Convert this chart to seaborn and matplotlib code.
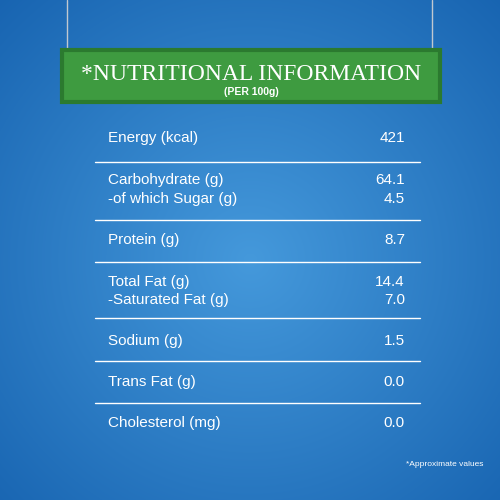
import numpy as np
import matplotlib
matplotlib.use("Agg")
import matplotlib.pyplot as plt
import seaborn as sns
from matplotlib.patches import Rectangle

sns.set_style("white")
plt.rcParams['font.family'] = ['Liberation Sans', 'DejaVu Sans']

labels = ["Energy (kcal)", "Carbohydrate (g)", "-of which Sugar (g)", "Protein (g)",
          "Total Fat (g)", "-Saturated Fat (g)", "Sodium (g)", "Trans Fat (g)", "Cholesterol (mg)"]
values = ["421", "64.1", "4.5", "8.7", "14.4", "7.0", "1.5", "0.0", "0.0"]
row_y = [138, 180, 199, 240, 282, 300, 341, 382, 423]
sep_y = [162, 220, 262, 318, 361, 403]

fig = plt.figure(figsize=(5, 5), dpi=100)
ax = fig.add_axes([0, 0, 1, 1])
ax.set_xlim(0, 500); ax.set_ylim(500, 0); ax.axis("off")

yy, xx = np.mgrid[0:500, 0:500]
r = np.sqrt((xx - 250) ** 2 + (yy - 260) ** 2) / 350
c0 = np.array([0.27, 0.60, 0.86]); c1 = np.array([0.10, 0.40, 0.70])
img = c0[None, None, :] * (1 - r[..., None]) + c1[None, None, :] * r[..., None]
ax.imshow(np.clip(img, 0, 1), extent=(0, 500, 500, 0), zorder=0)

# hanging strings
for x in (67, 432):
    ax.plot([x, x], [0, 52], color="#c0c8d0", lw=1, zorder=1)
ax.add_patch(Rectangle((62, 50), 378, 52, color="#3e9b40", zorder=2))
ax.add_patch(Rectangle((62, 50), 378, 52, fill=False, ec="#2b7a2f", lw=3, zorder=2))
ax.text(251, 74, "*NUTRITIONAL INFORMATION", family="Liberation Serif", color="white",
        fontsize=17, ha="center", va="center", zorder=3)
ax.text(251, 92, "(PER 100g)", color="white", fontsize=7.5, fontweight="bold",
        ha="center", va="center", zorder=3)

for lab, val, y in zip(labels, values, row_y):
    ax.text(108, y, lab, color="white", fontsize=11, va="center", zorder=3)
    ax.text(405, y, val, color="white", fontsize=11, va="center", ha="right", zorder=3)
for y in sep_y:
    ax.plot([95, 420], [y, y], color="white", lw=1, zorder=3)

ax.text(483, 465, "*Approximate values", color="white", fontsize=6, ha="right", va="center", zorder=3)
fig.savefig("out.png", dpi=100)
